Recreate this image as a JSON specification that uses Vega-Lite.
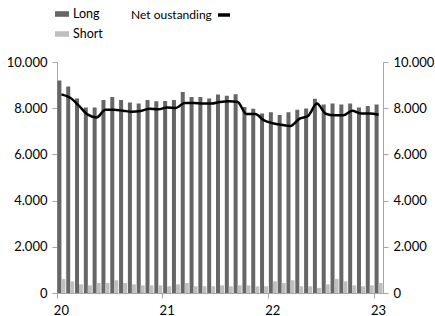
{
  "$schema": "https://vega.github.io/schema/vega-lite/v6.json",
  "width": 326,
  "height": 231,
  "autosize": {"type": "none"},
  "padding": {"left": 57, "top": 62, "right": 52, "bottom": 23},
  "config": {
    "font": "Lato",
    "view": {"stroke": null},
    "axis": {"labelFontSize": 13, "labelColor": "#000000", "domainColor": "#A6A6A6", "tickColor": "#A6A6A6", "grid": false, "tickSize": 5}
  },
  "data": {"values": [
    {"m": "2020-01", "Long": 9200, "Short": 610, "Net": 8600},
    {"m": "2020-02", "Long": 8940, "Short": 505, "Net": 8450},
    {"m": "2020-03", "Long": 8420, "Short": 375, "Net": 8100},
    {"m": "2020-04", "Long": 8030, "Short": 330, "Net": 7720},
    {"m": "2020-05", "Long": 8030, "Short": 435, "Net": 7600},
    {"m": "2020-06", "Long": 8360, "Short": 435, "Net": 7930},
    {"m": "2020-07", "Long": 8480, "Short": 550, "Net": 7930},
    {"m": "2020-08", "Long": 8360, "Short": 435, "Net": 7890},
    {"m": "2020-09", "Long": 8250, "Short": 375, "Net": 7850},
    {"m": "2020-10", "Long": 8200, "Short": 330, "Net": 7880},
    {"m": "2020-11", "Long": 8360, "Short": 330, "Net": 7980},
    {"m": "2020-12", "Long": 8300, "Short": 330, "Net": 7950},
    {"m": "2021-01", "Long": 8310, "Short": 290, "Net": 8030},
    {"m": "2021-02", "Long": 8360, "Short": 375, "Net": 8010},
    {"m": "2021-03", "Long": 8700, "Short": 435, "Net": 8230},
    {"m": "2021-04", "Long": 8480, "Short": 290, "Net": 8230},
    {"m": "2021-05", "Long": 8480, "Short": 290, "Net": 8200},
    {"m": "2021-06", "Long": 8420, "Short": 290, "Net": 8200},
    {"m": "2021-07", "Long": 8590, "Short": 330, "Net": 8270},
    {"m": "2021-08", "Long": 8540, "Short": 290, "Net": 8300},
    {"m": "2021-09", "Long": 8600, "Short": 330, "Net": 8270},
    {"m": "2021-10", "Long": 8050, "Short": 330, "Net": 7745},
    {"m": "2021-11", "Long": 7980, "Short": 290, "Net": 7745},
    {"m": "2021-12", "Long": 7770, "Short": 290, "Net": 7470},
    {"m": "2022-01", "Long": 7820, "Short": 505, "Net": 7350},
    {"m": "2022-02", "Long": 7710, "Short": 435, "Net": 7280},
    {"m": "2022-03", "Long": 7820, "Short": 550, "Net": 7230},
    {"m": "2022-04", "Long": 7930, "Short": 290, "Net": 7540},
    {"m": "2022-05", "Long": 7990, "Short": 290, "Net": 7665},
    {"m": "2022-06", "Long": 8410, "Short": 220, "Net": 8200},
    {"m": "2022-07", "Long": 8160, "Short": 375, "Net": 7760},
    {"m": "2022-08", "Long": 8200, "Short": 610, "Net": 7690},
    {"m": "2022-09", "Long": 8160, "Short": 505, "Net": 7690},
    {"m": "2022-10", "Long": 8200, "Short": 330, "Net": 7890},
    {"m": "2022-11", "Long": 8030, "Short": 290, "Net": 7775},
    {"m": "2022-12", "Long": 8100, "Short": 330, "Net": 7775},
    {"m": "2023-01", "Long": 8160, "Short": 435, "Net": 7720}
  ]},
  "layer": [
    {
      "transform": [{"fold": ["Long", "Short"], "as": ["series", "value"]}],
      "mark": {"type": "bar"},
      "encoding": {
        "x": {
          "field": "m", "type": "ordinal",
          "scale": {"paddingInner": 0, "paddingOuter": 0},
          "axis": {
            "title": null,
            "values": ["2020-01", "2021-01", "2022-01", "2023-01"],
            "labelExpr": "substring(datum.value, 2, 4)",
            "bandPosition": 0,
            "labelAngle": 0,
            "labelAlign": "center",
            "labelPadding": 6
          }
        },
        "xOffset": {"field": "series", "type": "nominal", "scale": {"domain": ["Long", "Short"], "paddingInner": 0, "paddingOuter": 0.1}},
        "y": {
          "field": "value", "type": "quantitative",
          "scale": {"domain": [0, 10000]},
          "axis": {
            "orient": "left", "title": null,
            "values": [0, 2000, 4000, 6000, 8000, 10000],
            "labelExpr": "replace(format(datum.value, ','), ',', '.')",
            "labelPadding": 5
          }
        },
        "color": {
          "field": "series", "type": "nominal",
          "scale": {"domain": ["Long", "Short"], "range": ["#666666", "#BFBFBF"]},
          "legend": {
            "orient": "none", "legendX": -2, "legendY": -55,
            "title": null, "direction": "vertical",
            "symbolType": "M-1,-0.4H1V0.4H-1Z", "symbolSize": 196,
            "symbolStrokeWidth": 0,
            "labelFontSize": 12.5, "labelColor": "#000000", "rowPadding": 6,
            "padding": 0, "labelOffset": 4
          }
        }
      }
    },
    {
      "mark": {"type": "line", "strokeWidth": 2.5, "interpolate": "monotone"},
      "encoding": {
        "x": {"field": "m", "type": "ordinal"},
        "y": {
          "field": "Net", "type": "quantitative",
          "axis": {
            "orient": "right", "title": null,
            "values": [0, 2000, 4000, 6000, 8000, 10000],
            "labelExpr": "replace(format(datum.value, ','), ',', '.')",
            "labelPadding": 5
          }
        },
        "stroke": {
          "datum": "Net oustanding",
          "scale": {"range": ["#000000"]},
          "legend": {
            "orient": "none", "legendX": 74, "legendY": -55,
            "title": "Net oustanding", "titleOrient": "left",
            "titleFontWeight": "normal", "titleFontSize": 12, "titleColor": "#000000",
            "titlePadding": 4,
            "labelExpr": "''",
            "symbolType": "M-1,0H1", "symbolSize": 144, "symbolStrokeWidth": 3.5,
            "padding": 0
          }
        }
      }
    }
  ],
  "resolve": {"axis": {"y": "independent"}}
}
